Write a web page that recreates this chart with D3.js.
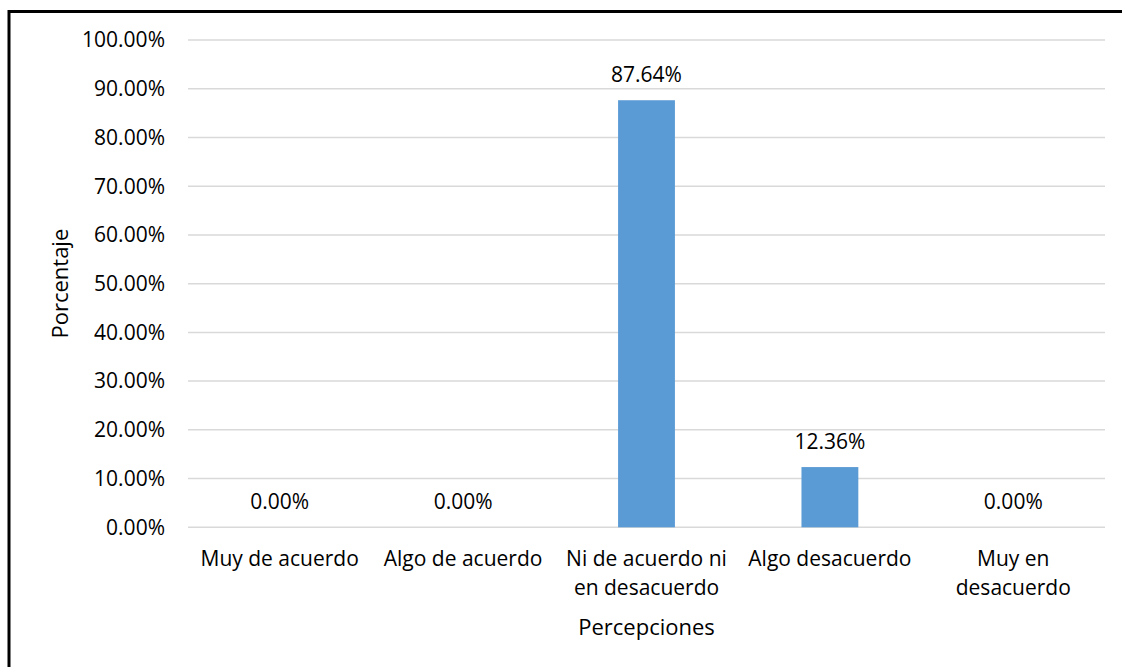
<!DOCTYPE html>
<html>
<head>
<meta charset="utf-8">
<script src="https://cdn.jsdelivr.net/npm/d3@7"></script>
<style>
  html, body { margin: 0; padding: 0; background: #fff; }
  svg { display: block; font-family: "Open Sans", "Noto Sans", sans-serif; }
</style>
</head>
<body>
<svg id="chart" width="1122" height="667"></svg>
<script>
// Survey results: share of answers per perception level
const categories = ["Muy de acuerdo", "Algo de acuerdo", "Ni de acuerdo ni en desacuerdo", "Algo desacuerdo", "Muy en desacuerdo"];
const categoryLines = [["Muy de acuerdo"], ["Algo de acuerdo"], ["Ni de acuerdo ni", "en desacuerdo"], ["Algo desacuerdo"], ["Muy en", "desacuerdo"]];
const values = [0.0, 0.0, 87.64, 12.36, 0.0];
const yTicks = [0, 10, 20, 30, 40, 50, 60, 70, 80, 90, 100];
const yTitle = "Porcentaje";
const xTitle = "Percepciones";

const svg = d3.select("#chart");
const plot = { left: 188, right: 1105, top: 40, bottom: 527.3 };
const fontSize = 21;

// outer frame of the chart
svg.append("rect")
  .attr("x", 9).attr("y", 11.5)
  .attr("width", 1140).attr("height", 700)
  .attr("fill", "none").attr("stroke", "#000").attr("stroke-width", 3);

const x = d3.scaleBand()
  .domain(categories)
  .range([plot.left, plot.right])
  .paddingInner(0.69)
  .paddingOuter(0.345);

const y = d3.scaleLinear()
  .domain([0, 100])
  .range([plot.bottom, plot.top]);

// horizontal gridlines
svg.append("g")
  .selectAll("line")
  .data(yTicks)
  .join("line")
  .attr("x1", plot.left).attr("x2", plot.right)
  .attr("y1", d => y(d)).attr("y2", d => y(d))
  .attr("stroke", "#d9d9d9").attr("stroke-width", 1.5);

// y tick labels
svg.append("g")
  .selectAll("text")
  .data(yTicks)
  .join("text")
  .attr("x", 165)
  .attr("y", d => y(d))
  .attr("dy", "0.35em")
  .attr("text-anchor", "end")
  .attr("font-size", fontSize)
  .attr("fill", "#000")
  .text(d => d.toFixed(2) + "%");

// bars
svg.append("g")
  .selectAll("rect")
  .data(values)
  .join("rect")
  .attr("x", (d, i) => x(categories[i]))
  .attr("width", x.bandwidth())
  .attr("y", d => y(d))
  .attr("height", d => y(0) - y(d))
  .attr("fill", "#5b9bd5");

// value labels above bars
svg.append("g")
  .selectAll("text")
  .data(values)
  .join("text")
  .attr("x", (d, i) => x(categories[i]) + x.bandwidth() / 2)
  .attr("y", d => y(d) - 18)
  .attr("text-anchor", "middle")
  .attr("font-size", fontSize)
  .attr("fill", "#000")
  .text(d => d.toFixed(2) + "%");

// category labels
const catG = svg.append("g")
  .selectAll("text")
  .data(categoryLines)
  .join("text")
  .attr("x", (d, i) => x(categories[i]) + x.bandwidth() / 2)
  .attr("y", 566)
  .attr("text-anchor", "middle")
  .attr("font-size", fontSize)
  .attr("fill", "#000");
catG.selectAll("tspan")
  .data(d => d)
  .join("tspan")
  .attr("x", function () { return d3.select(this.parentNode).attr("x"); })
  .attr("dy", (d, i) => i === 0 ? 0 : 29)
  .text(d => d);

// axis titles
svg.append("text")
  .attr("x", (plot.left + plot.right) / 2)
  .attr("y", 635)
  .attr("text-anchor", "middle")
  .attr("font-size", fontSize + 1)
  .attr("fill", "#000")
  .text(xTitle);

svg.append("text")
  .attr("transform", `translate(68,${(plot.top + plot.bottom) / 2}) rotate(-90)`)
  .attr("text-anchor", "middle")
  .attr("font-size", fontSize + 1)
  .attr("fill", "#000")
  .text(yTitle);
</script>
</body>
</html>
